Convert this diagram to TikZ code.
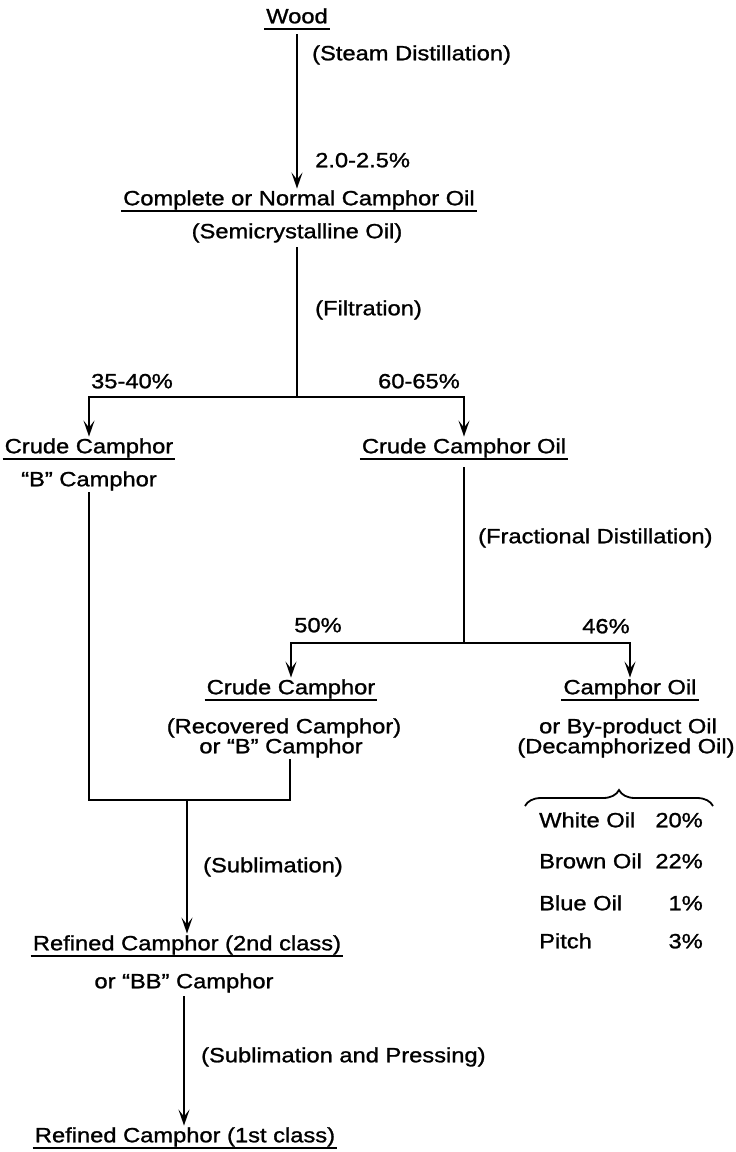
\documentclass[tikz,border=0pt]{standalone}
\usepackage{fontspec}
\setmainfont{Liberation Sans}[FakeStretch=1.15,FakeBold=1.2]
\usepackage{tikz}
\usetikzlibrary{arrows.meta,positioning,calc,decorations.pathreplacing}

\begin{document}
\begin{tikzpicture}[
  x=1pt,y=-1pt,
  font=\fontsize{20.6}{24}\selectfont,
  txt/.style={inner xsep=2pt,inner ysep=1.5pt,text height=15pt,text depth=4.5pt},
  lbl/.style={txt,anchor=west},
  rule/.style={line width=2pt},
  line/.style={line width=2pt},
  arr/.style={line width=2pt,-{Stealth[length=16pt,width=11pt,inset=7pt]}},
  brc/.style={line width=1.8pt,decorate,decoration={brace,amplitude=16pt}}
]
\useasboundingbox (0,0) rectangle (736,1152);
% products
\node[txt] (wood) at (297,18) {Wood};
\node[txt] (cnco) at (299,200) {Complete or Normal Camphor Oil};
\node[txt] (semi) at (297,233) {(Semicrystalline Oil)};
\node[txt] (cc1) at (89,448) {Crude Camphor};
\node[txt] (bcam) at (89,481) {“B” Camphor};
\node[txt] (cco) at (464,448) {Crude Camphor Oil};
\node[txt] (cc2) at (291,689) {Crude Camphor};
\node[txt] (rec1) at (284,728) {(Recovered Camphor)};
\node[txt] (rec2) at (281,748) {or “B” Camphor};
\node[txt] (co) at (630,689) {Camphor Oil};
\node[txt] (bpo1) at (628,728) {or By-product Oil};
\node[txt] (bpo2) at (626,748) {(Decamphorized Oil)};
\node[txt] (rc2) at (187,945) {Refined Camphor (2nd class)};
\node[txt] (bb) at (184,983) {or “BB” Camphor};
\node[txt] (rc1) at (185,1137) {Refined Camphor (1st class)};
\foreach \n in {wood,cnco,cc1,cco,cc2,co,rc2,rc1}
  \draw[rule] (\n.south west) -- (\n.south east);
% process labels
\node[lbl] (steam) at (310,55) {(Steam Distillation)};
\node[lbl] (yield) at (313,162) {2.0-2.5\%};
\node[lbl] (filt) at (313,310) {(Filtration)};
\node[lbl] (frac) at (476,538) {(Fractional Distillation)};
\node[lbl] (subl) at (201,867) {(Sublimation)};
\node[lbl] (press) at (199,1057) {(Sublimation and Pressing)};
\node[txt] (p3540) at (132,383) {35-40\%};
\node[txt] (p6065) at (419,383) {60-65\%};
\node[txt] (p50) at (318,627) {50\%};
\node[txt] (p46) at (606,628) {46\%};
% by-product oils
\node[lbl] (white) at (537,822) {White Oil};
\node[lbl] (brown) at (537,863) {Brown Oil};
\node[lbl] (blue) at (537,905) {Blue Oil};
\node[lbl] (pitch) at (537,943) {Pitch};
\node[txt,anchor=east] (pwhite) at (705,822) {20\%};
\node[txt,anchor=east] (pbrown) at (705,863) {22\%};
\node[txt,anchor=east] (pblue) at (705,905) {1\%};
\node[txt,anchor=east] (ppitch) at (705,943) {3\%};
\draw[brc] (525,806) -- (713,806);
% flow
\coordinate (fsplit) at (297,397);
\coordinate (dsplit) at (464,643);
\coordinate (sjoin) at (187,800);
\draw[arr,shorten <=5pt] (wood.south) -- (wood.south |- cnco.north);
\draw[line,shorten <=3pt] (semi.south) -- (fsplit);
\draw[arr] (fsplit) -| (cc1.north);
\draw[arr] (fsplit) -| (cco.north);
\draw[line,shorten <=8pt] (cco.south) -- (dsplit);
\draw[arr] (dsplit) -| (cc2.north);
\draw[arr] (dsplit) -| (co.north);
\draw[line] (bcam.south) |- (sjoin);
\draw[line] (sjoin) -| ([xshift=9pt]rec2.south);
\draw[arr] (sjoin) -- (rc2.north);
\draw[arr,shorten <=2pt] (bb.south) -- (bb.south |- rc1.north);
\end{tikzpicture}
\end{document}
